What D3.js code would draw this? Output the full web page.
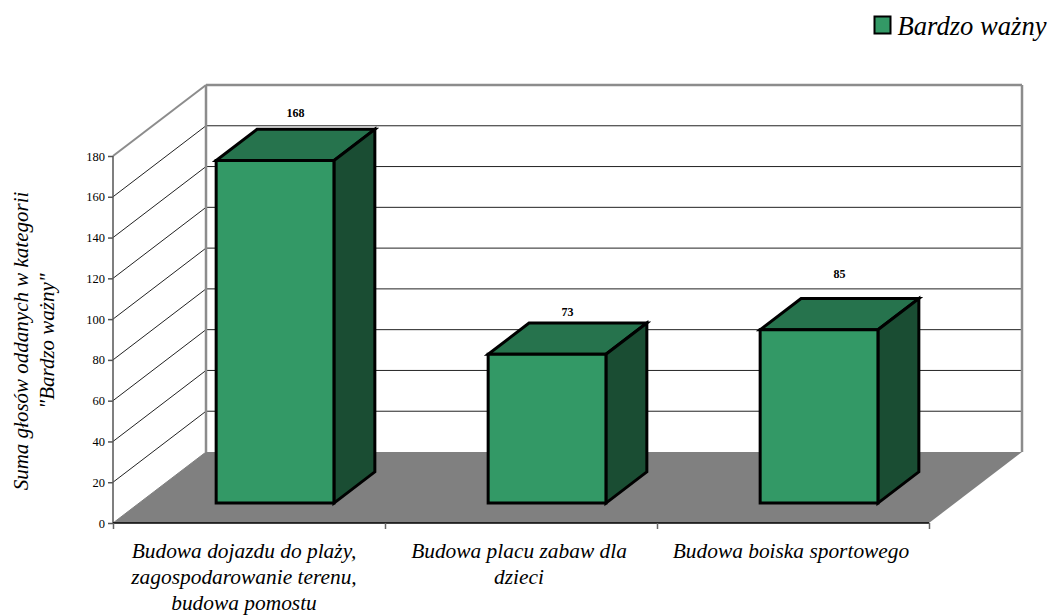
<!DOCTYPE html>
<html><head><meta charset="utf-8">
<script src="https://cdnjs.cloudflare.com/ajax/libs/d3/7.8.5/d3.min.js"></script>
<style>html,body{margin:0;padding:0;background:#fff}svg{display:block}text{font-family:"Liberation Serif",serif;fill:#000}</style>
</head><body><svg id="c" width="1050" height="615"></svg>
<script>
const categories = ["Budowa dojazdu do plaży, zagospodarowanie terenu, budowa pomostu","Budowa placu zabaw dla dzieci","Budowa boiska sportowego"];
const categoryLines = [["Budowa dojazdu do plaży,","zagospodarowanie terenu,","budowa pomostu"],["Budowa placu zabaw dla","dzieci"],["Budowa boiska sportowego"]];
const values = [168,73,85];
const yTicks = [0,20,40,60,80,100,120,140,160,180];
const seriesName = "Bardzo ważny";
const yTitle = ["Suma głosów oddanych w kategorii","\"Bardzo ważny\""];
const labelLift = [16,11,25];
const categoryShift = [-5,-2,-2];

const svg = d3.select("#c");
const fx0=113, fx1=929, fy0=523, fy1=156, depthX=93, depthY=71;
const x = d3.scaleBand().domain(categories).range([fx0,fx1]);
const y = d3.scaleLinear().domain([0,180]).range([fy0,fy1]);
const p = (px,py,f)=>[px+depthX*f, py-depthY*f];
const poly = (pts,fill,stroke,sw)=>svg.append("polygon").attr("points",pts.map(d=>d.join(",")).join(" ")).attr("fill",fill).attr("stroke",stroke||"none").attr("stroke-width",sw||0).attr("stroke-linejoin","miter");
const line=(a,b,c,w)=>svg.append("line").attr("x1",a[0]).attr("y1",a[1]).attr("x2",b[0]).attr("y2",b[1]).attr("stroke",c).attr("stroke-width",w);

// floor
poly([p(fx0,fy0,0),p(fx1,fy0,0),p(fx1,fy0,1),p(fx0,fy0,1)],"#808080");
// gridlines
yTicks.forEach(t=>{
  const top=t===180, c=top?"#8c8c8c":"#222";
  if(t===0) return;
  line(p(fx0,y(t),0),p(fx0,y(t),1),c,top?2:1);
  line(p(fx0,y(t),1),p(fx1,y(t),1),c,top?2.5:1);
});
// wall frame
line(p(fx0,fy0,1),p(fx0,fy1,1),"#8c8c8c",2.5);
line(p(fx1,fy0,1),p(fx1,fy1,1),"#8c8c8c",2.5);
line([fx0,fy0],p(fx0,fy0,1),"#808080",1);

// axes
const yAxis=d3.axisLeft(y).tickValues(yTicks).tickSize(5).tickPadding(3);
const gy=svg.append("g").attr("transform",`translate(${fx0},0)`).call(yAxis);
gy.selectAll("path,line").attr("stroke","#555").attr("stroke-width",1.5);
gy.select("path").attr("d",`M0,${fy0}V${fy1}`);
gy.selectAll("text").attr("font-size",12.5).attr("font-family","Liberation Serif").attr("fill","#111");
const xAxis=d3.axisBottom(d3.scaleLinear().domain([0,3]).range([fx0,fx1])).tickValues([0,1,2,3]).tickSize(6).tickFormat("");
const gx=svg.append("g").attr("transform",`translate(0,${fy0})`).call(xAxis);
gx.selectAll("line").attr("stroke","#666").attr("stroke-width",1.5);
gx.select("path").attr("d",`M${fx0},0H${fx1}`).attr("stroke","#000").attr("stroke-width",1.5);

// bars
const frontF=0.28, backF=0.72, widthF=0.433;
categories.forEach((c,i)=>{
  const w=x.bandwidth()*widthF, l=x(c)+(x.bandwidth()-w)/2, r=l+w;
  const b=y(0), t=y(values[i]);
  const A=p(l,b,frontF),B=p(r,b,frontF),C=p(r,t,frontF),D=p(l,t,frontF);
  const C2=p(r,t,backF),D2=p(l,t,backF),B2=p(r,b,backF);
  poly([D,C,C2,D2],"#26734d","#000",3);
  poly([B,B2,C2,C],"#1a4d33","#000",3);
  poly([A,B,C,D],"#339966","#000",3);
  svg.append("text").attr("x",(C[0]+D2[0])/2).attr("y",C2[1]-labelLift[i]+4).attr("text-anchor","middle").attr("font-size",12).attr("font-weight","bold").text(values[i]);
  const g=svg.append("text").attr("text-anchor","middle").attr("font-size",21.4).attr("font-style","italic");
  categoryLines[i].forEach((s,j)=>g.append("tspan").attr("x",x(c)+x.bandwidth()/2+categoryShift[i]).attr("y",558+j*26).text(s));
});

// y title
const yt=svg.append("text").attr("transform","translate(0,341) rotate(-90)").attr("text-anchor","middle").attr("font-size",21).attr("font-style","italic");
yTitle.forEach((s,j)=>yt.append("tspan").attr("x",0).attr("y",28+j*26).text(s));

// legend
svg.append("rect").attr("x",874.5).attr("y",16.5).attr("width",16).attr("height",17).attr("fill","#339966").attr("stroke","#000").attr("stroke-width",2);
svg.append("text").attr("x",897.5).attr("y",35).attr("font-size",26.6).attr("font-style","italic").text(seriesName);
</script></body></html>
